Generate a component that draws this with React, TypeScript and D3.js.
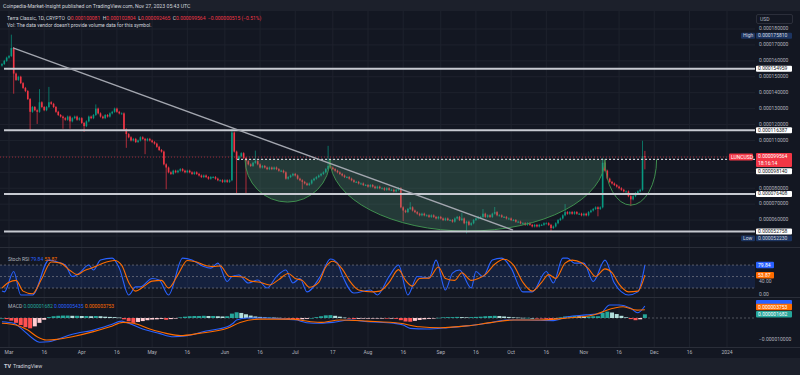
import { useEffect, useRef } from "react";
import * as d3 from "d3";

const DAY = 86400000;
const firstCandle = Date.UTC(2023, 1, 26);

// daily closes, millionths of a dollar, Feb 26 -> Nov 27 2023
const closes = [
  158, 160, 162, 163, 168, 152, 148, 150, 146, 143,
  141, 136, 128, 131, 129, 128, 134, 131, 129, 131,
  134, 133, 131, 128, 126, 125, 124, 123, 125, 122,
  124, 125, 123, 124, 121, 119, 122, 125, 124, 126,
  130, 127, 125, 124, 126, 125, 127, 128, 130, 128,
  127, 127, 117, 114, 112, 110, 111, 109, 110, 112,
  111, 110, 111, 110, 109, 108, 106, 104, 103, 95,
  93, 90, 89, 91, 90, 91, 92, 91, 90, 91,
  90, 89, 90, 89, 88, 87, 88, 87, 86, 87,
  87, 86, 85, 85, 84, 85, 84, 85, 115, 103,
  98, 100, 102, 99, 97, 95, 94, 96, 97, 95,
  93, 94, 93, 92, 93, 92, 93, 92, 91, 91,
  90, 86, 87, 88, 89, 88, 86, 85, 84, 83,
  82, 83, 85, 86, 87, 88, 89, 90, 92, 94,
  93, 92, 91, 90, 89, 88, 87, 87, 86, 85,
  84, 84, 83, 83, 82, 82, 81, 82, 81, 80,
  81, 80, 80, 79, 80, 79, 79, 78, 79, 80,
  68, 66, 65, 67, 68, 66, 65, 64, 63, 64,
  63, 63, 62, 63, 62, 61, 62, 61, 60, 61,
  60, 60, 59, 61, 62, 60, 61, 58, 59, 57,
  58, 60, 61, 62, 62, 64, 62, 63, 62, 64,
  65, 63, 63, 62, 62, 61, 61, 60, 60, 59,
  59, 58, 58, 57, 58, 57, 56, 57, 56, 57,
  57, 58, 58, 57, 55, 56, 58, 60, 61, 63,
  65, 64, 65, 64, 65, 64, 64, 63, 64, 63,
  65, 66, 67, 68, 67, 68, 96, 91, 86, 84,
  83, 82, 81, 80, 79, 78, 78, 75, 73, 75,
  77, 78, 79, 100.08, 99.564,
];
const firstOpen = 157;
const lastOpen = 100.081;

// notable wicks [day index, price]
const wickHighs: [number, number][] = [
  [4, 175.81], [16, 141.6], [20, 143], [40, 132], [98, 116.4], [108, 103],
  [139, 106], [174, 70.6], [196, 64], [205, 66.3], [210, 67.6], [240, 69.4],
  [256, 98.5], [273, 109.2], [274, 102.804],
];
const wickLows: [number, number][] = [
  [5, 140], [12, 116.5], [15, 121], [26, 118], [29, 118], [35, 116], [53, 106],
  [61, 102], [70, 80], [100, 77.5], [104, 77], [128, 80], [171, 60],
  [198, 52.23], [234, 53.5], [254, 63], [268, 69.4], [274, 92.465],
];

const levels = [154.959, 116.387, 76.408, 52.758];
const neckline = 98.14;
const lastPrice = 99.564;
const trendline: [number, number][] = [[4.7, 168.1], [217.8, 53.7]];
// cups: [start day, end day, bottom price, filled]
const cups: [number, number, number, boolean][] = [
  [103.6, 139.8, 71.3, true],
  [139.8, 257, 53.1, true],
  [257, 279, 69.4, false],
];

const priceTicks = [180, 170, 160, 150, 140, 130, 120, 110, 100, 90, 80, 70, 60, 50];
// ticks hidden behind the price labels in the picture
const hiddenPriceLabels = [100, 90, 50];

const timeTicks: [string, number][] = [
  ["Mar", Date.UTC(2023, 2, 1)], ["16", Date.UTC(2023, 2, 16)],
  ["Apr", Date.UTC(2023, 3, 1)], ["16", Date.UTC(2023, 3, 16)],
  ["May", Date.UTC(2023, 4, 1)], ["16", Date.UTC(2023, 4, 16)],
  ["Jun", Date.UTC(2023, 5, 1)], ["16", Date.UTC(2023, 5, 16)],
  ["Jul", Date.UTC(2023, 6, 1)], ["17", Date.UTC(2023, 6, 17)],
  ["Aug", Date.UTC(2023, 7, 1)], ["16", Date.UTC(2023, 7, 16)],
  ["Sep", Date.UTC(2023, 8, 1)], ["16", Date.UTC(2023, 8, 16)],
  ["Oct", Date.UTC(2023, 9, 1)], ["16", Date.UTC(2023, 9, 16)],
  ["Nov", Date.UTC(2023, 10, 1)], ["16", Date.UTC(2023, 10, 16)],
  ["Dec", Date.UTC(2023, 11, 1)], ["16", Date.UTC(2023, 11, 16)],
  ["2024", Date.UTC(2024, 0, 1)],
];

// stochastic RSI [day, value]
const stochK: [number, number][] = [
  [0, 12], [1, 10], [5, 63], [8, 2], [13, 2], [20, 93], [23, 89], [27, 80], [30, 50],
  [33, 59], [37, 80], [39, 67], [42, 93], [47, 98], [50, 72], [54, 2], [57, 23],
  [59, 23], [64, 45], [67, 41], [71, 2], [77, 98], [81, 93], [86, 76], [89, 72],
  [92, 85], [96, 37], [98, 50], [101, 54], [105, 33], [109, 41], [113, 20],
  [117, 50], [121, 67], [124, 33], [127, 45], [130, 10], [136, 54], [140, 96],
  [143, 85], [145, 54], [150, 7], [157, 15], [160, 2], [165, 50], [169, 80],
  [173, 2], [177, 50], [182, 46], [185, 93], [189, 15], [192, 59], [195, 67],
  [200, 20], [202, 63], [205, 50], [209, 93], [213, 98], [217, 72], [222, 10],
  [226, 10], [232, 63], [235, 33], [239, 98], [241, 98], [244, 85], [248, 85],
  [252, 37], [257, 93], [261, 33], [267, 2], [271, 10], [274, 79.84],
];
const stochD: [number, number][] = [
  [0, 20], [3, 35], [6, 40], [9, 12], [13, 5], [17, 45], [21, 88], [25, 85], [29, 66],
  [32, 55], [35, 65], [39, 74], [43, 85], [48, 92], [51, 80], [54, 35], [57, 12],
  [60, 22], [64, 38], [68, 40], [71, 20], [75, 55], [79, 92], [83, 88], [87, 78],
  [90, 76], [93, 78], [97, 50], [100, 50], [103, 48], [106, 38], [110, 35],
  [114, 28], [118, 42], [122, 58], [125, 45], [128, 40], [131, 22], [135, 35],
  [138, 75], [141, 90], [145, 70], [148, 40], [152, 15], [158, 10], [161, 12],
  [165, 35], [169, 68], [172, 40], [175, 25], [178, 45], [182, 46], [186, 75],
  [189, 45], [193, 40], [196, 60], [200, 40], [203, 45], [206, 55], [210, 82],
  [214, 95], [218, 80], [222, 35], [226, 12], [230, 35], [233, 55], [236, 45],
  [240, 85], [243, 93], [247, 86], [250, 70], [253, 50], [257, 70], [260, 60],
  [263, 30], [267, 10], [271, 12], [274, 53.87],
];

// MACD in millionths [day, value]
const macdLine: [number, number][] = [
  [0, -1.7], [5, -2.4], [9, -5.5], [13, -9.2], [16, -11], [20, -10.8], [24, -9.5],
  [30, -7.4], [39, -5.5], [46, -3.2], [51, -1.4], [53, -2], [60, -5], [67, -7],
  [73, -8.5], [79, -8], [87, -5.9], [96, -4], [98.5, -2.4], [100, -0.9], [104.5, 0],
  [113, 0], [120, -0.5], [126, -0.9], [127, -1.4], [132.6, -2.4], [141, -2],
  [148, -0.9], [156, -1.7], [167, -2.4], [171, -3.2], [174, -4.7], [181, -5],
  [190, -4.4], [198, -3.6], [207, -2.4], [215, -0.9], [224, -0.9], [235, -1.2],
  [241, 0.6], [249, 1.4], [255, 2.1], [259, 5.9], [263, 5.9], [268, 4.4],
  [271, 2.4], [274, 5.435],
];
const signalLine: [number, number][] = [
  [0, -2.4], [6, -3.2], [11, -5.5], [15, -8.5], [19, -10], [23.5, -9.7], [30, -8.5],
  [39, -6.2], [46, -4], [51.6, -2], [56, -2.4], [63, -5], [70, -7], [76, -8],
  [84, -7], [96, -4.7], [101.5, -2], [110, -0.5], [124, -0.5], [127, -0.9],
  [135.6, -2], [144, -0.9], [155.6, -1.4], [169.7, -2.4], [178, -4], [186.7, -4.4],
  [198, -3.6], [209, -2], [218, -0.9], [229, -0.9], [241, 0], [252, 1.4],
  [260.5, 4.4], [264.7, 5.1], [270.7, 3.6], [274, 3.753],
];
// histogram, every second day from Feb 26
const macdHist = [
  0, -0.5, -1.2, -2.2, -3.2, -4.2, -4.7, -3.8, -2.2, -0.8,
  0.4, 0.8, 1.0, 1.1, 1.1, 1.0, 1.0, 0.9, 0.9, 0.8,
  0.9, 0.8, 0.6, 0.5, 0.4, 0.2, -0.6, -1.5, -2.2, -1.8,
  -1.4, -1.0, -0.7, -0.6, -0.4, -0.8, -0.5, -0.1, 0.3, 0.6,
  0.8, 0.9, 0.9, 1.0, 0.9, 0.9, 0.8, 0.7, 0.8, 2.0,
  2.6, 2.3, 1.7, 1.1, 0.7, 0.5, 0.3, 0.3, 0.2, 0.1,
  -0.2, -0.4, -0.5, -0.6, -0.6, -0.4, 0, 0.4, 0.8, 1.2,
  1.3, 1.0, 0.6, 0.2, -0.2, -0.5, -0.4, -0.3, -0.3, -0.2,
  -0.2, -0.2, -0.3, -0.3, -0.4, -1.0, -1.6, -1.7, -1.3, -0.9,
  -0.6, -0.4, -0.2, 0.1, 0.3, 0.4, 0.4, 0.5, 0.4, 0.3,
  0.4, 0.5, 0.6, 0.8, 0.9, 1.0, 0.9, 0.7, 0.5, 0.3,
  0.2, 0.1, 0.1, 0, -0.1, -0.2, -0.4, -0.5, -0.2, 0.3,
  0.7, 0.9, 0.9, 0.8, 0.7, 0.7, 0.8, 0.8, 2.4, 2.9,
  2.5, 1.8, 1.0, 0.3, -0.5, -1.0, -0.6, 1.682,
];

const FONT = "Roboto, 'Noto Sans', sans-serif";
const GREEN = "#089981";
const RED = "#f23645";
const BLUE = "#2962ff";
const ORANGE = "#ff6d00";

export default function App() {
  const svgRef = useRef<SVGSVGElement>(null);

  useEffect(() => {
    if (!svgRef.current) return;
    const svg = d3.select(svgRef.current);
    svg.selectAll("*").remove();

    const plotRight = 755;
    const main = { top: 11, bottom: 247 };
    const rsiPane = { top: 248, bottom: 297 };
    const macdPane = { top: 298, bottom: 347 };

    const x = d3
      .scaleUtc()
      .domain([Date.UTC(2023, 2, 1), Date.UTC(2024, 0, 1)])
      .range([9, 727]);
    const xDay = (d: number) => x(new Date(firstCandle + d * DAY));
    const y = d3.scaleLinear().domain([50, 180]).range([236, 29]);
    const yRsi = d3.scaleLinear().domain([0, 100]).range([295.7, 257.4]);
    const yMacd = d3.scaleLinear().domain([-10, 0]).range([340, 318]);

    svg.append("rect").attr("width", 800).attr("height", 375).attr("fill", "#1c202b");
    svg
      .append("rect")
      .attr("x", 0)
      .attr("y", main.top)
      .attr("width", 800)
      .attr("height", 358 - main.top)
      .attr("fill", "#131722");

    // grid
    const grid = svg.append("g").attr("stroke", "#1e222d").attr("stroke-width", 1);
    timeTicks.forEach(([, t]) => {
      grid
        .append("line")
        .attr("x1", x(new Date(t)))
        .attr("x2", x(new Date(t)))
        .attr("y1", main.top)
        .attr("y2", macdPane.bottom);
    });
    priceTicks.forEach((p) => {
      grid.append("line").attr("x1", 0).attr("x2", plotRight).attr("y1", y(p)).attr("y2", y(p));
    });

    // pane separators
    [main.bottom + 0.5, rsiPane.bottom + 0.5, macdPane.bottom + 0.5].forEach((yy) => {
      svg
        .append("line")
        .attr("x1", 0)
        .attr("x2", 800)
        .attr("y1", yy)
        .attr("y2", yy)
        .attr("stroke", "#2a2e39");
    });

    // candles
    const hiMap = new Map(wickHighs);
    const loMap = new Map(wickLows);
    const bodyW = 1.6;
    const candles = svg.append("g");
    closes.forEach((c, i) => {
      const o = i === 0 ? firstOpen : i === closes.length - 1 ? lastOpen : closes[i - 1];
      const hi = hiMap.get(i) ?? Math.max(o, c);
      const lo = loMap.get(i) ?? Math.min(o, c);
      const col = c >= o ? GREEN : RED;
      const cx = xDay(i);
      candles
        .append("line")
        .attr("x1", cx)
        .attr("x2", cx)
        .attr("y1", y(hi) - 1)
        .attr("y2", y(lo) + 1)
        .attr("stroke", col)
        .attr("stroke-width", 0.7);
      const top = Math.min(y(o), y(c));
      candles
        .append("rect")
        .attr("x", cx - bodyW / 2)
        .attr("y", top)
        .attr("width", bodyW)
        .attr("height", Math.max(1, Math.abs(y(o) - y(c))))
        .attr("fill", col);
    });

    // cup and handle
    const yTop = y(neckline);
    cups.forEach(([d0, d1, bottom, filled]) => {
      const x0 = xDay(d0);
      const x1 = xDay(d1);
      const rx = (x1 - x0) / 2;
      const ry = y(bottom) - yTop;
      const path = `M${x0},${yTop} A${rx},${ry} 0 0 0 ${x1},${yTop}`;
      if (filled) {
        svg
          .append("path")
          .attr("d", path + " Z")
          .attr("fill", "rgba(87,163,122,0.25)");
      }
      svg
        .append("path")
        .attr("d", path)
        .attr("fill", "none")
        .attr("stroke", "#3f8f4f")
        .attr("stroke-width", 1);
    });

    // current price line
    svg
      .append("line")
      .attr("x1", 0)
      .attr("x2", plotRight)
      .attr("y1", y(lastPrice))
      .attr("y2", y(lastPrice))
      .attr("stroke", RED)
      .attr("stroke-opacity", 0.6)
      .attr("stroke-dasharray", "1,2");

    // neckline
    svg
      .append("line")
      .attr("x1", xDay(cups[0][0]) - 8)
      .attr("x2", plotRight)
      .attr("y1", yTop)
      .attr("y2", yTop)
      .attr("stroke", "#d1d4dc")
      .attr("stroke-width", 1.3)
      .attr("stroke-dasharray", "2,2");

    // support / resistance
    levels.forEach((p) => {
      svg
        .append("line")
        .attr("x1", 4)
        .attr("x2", plotRight)
        .attr("y1", y(p))
        .attr("y2", y(p))
        .attr("stroke", "#c7cad1")
        .attr("stroke-width", 2);
    });

    // trendline
    svg
      .append("line")
      .attr("x1", xDay(trendline[0][0]))
      .attr("y1", y(trendline[0][1]))
      .attr("x2", xDay(trendline[1][0]))
      .attr("y2", y(trendline[1][1]))
      .attr("stroke", "#a3a6af")
      .attr("stroke-width", 1.3);

    // stoch RSI pane
    svg
      .append("rect")
      .attr("x", 0)
      .attr("y", yRsi(80))
      .attr("width", plotRight)
      .attr("height", yRsi(20) - yRsi(80))
      .attr("fill", "rgba(41,98,255,0.13)");
    [80, 50, 20].forEach((v) => {
      svg
        .append("line")
        .attr("x1", 0)
        .attr("x2", plotRight)
        .attr("y1", yRsi(v))
        .attr("y2", yRsi(v))
        .attr("stroke", "#787b86")
        .attr("stroke-opacity", 0.7)
        .attr("stroke-dasharray", "2,2");
    });
    const rsiLine = d3
      .line<[number, number]>()
      .x((d) => xDay(d[0]))
      .y((d) => yRsi(Math.max(0, Math.min(100, d[1]))))
      .curve(d3.curveMonotoneX);
    svg.append("path").datum(stochK).attr("d", rsiLine).attr("fill", "none").attr("stroke", BLUE).attr("stroke-width", 1.1);
    svg.append("path").datum(stochD).attr("d", rsiLine).attr("fill", "none").attr("stroke", ORANGE).attr("stroke-width", 1.1);

    // MACD pane
    svg
      .append("line")
      .attr("x1", 0)
      .attr("x2", plotRight)
      .attr("y1", yMacd(0))
      .attr("y2", yMacd(0))
      .attr("stroke", "#787b86")
      .attr("stroke-opacity", 0.6)
      .attr("stroke-dasharray", "2,2");
    const barW = 2 * (xDay(1) - xDay(0)) - 0.7;
    macdHist.forEach((v, j) => {
      const prev = j > 0 ? macdHist[j - 1] : v;
      const col = v >= 0 ? (v >= prev ? "#26a69a" : "#b2dfdb") : v < prev ? "#ff5252" : "#ffcdd2";
      const cx = xDay(j * 2);
      svg
        .append("rect")
        .attr("x", cx - barW / 2)
        .attr("y", Math.min(yMacd(0), yMacd(v)))
        .attr("width", barW)
        .attr("height", Math.max(0.6, Math.abs(yMacd(v) - yMacd(0))))
        .attr("fill", col);
    });
    const mLine = d3
      .line<[number, number]>()
      .x((d) => xDay(d[0]))
      .y((d) => yMacd(d[1]))
      .curve(d3.curveMonotoneX);
    svg.append("path").datum(macdLine).attr("d", mLine).attr("fill", "none").attr("stroke", BLUE).attr("stroke-width", 1.1);
    svg.append("path").datum(signalLine).attr("d", mLine).attr("fill", "none").attr("stroke", ORANGE).attr("stroke-width", 1.1);

    // axis texts
    const txt = (xx: number, yy: number, s: string, fill = "#b2b5be", anchor = "start", size = 5) =>
      svg
        .append("text")
        .attr("x", xx)
        .attr("y", yy)
        .attr("font-family", FONT)
        .attr("font-size", size)
        .attr("fill", fill)
        .attr("text-anchor", anchor)
        .attr("dominant-baseline", "middle")
        .text(s);

    priceTicks
      .filter((p) => !hiddenPriceLabels.includes(p))
      .forEach((p) => txt(759, y(p), (p / 1e6).toFixed(9)));
    timeTicks.forEach(([lab, t]) => txt(x(new Date(t)), 353, lab, "#b2b5be", "middle"));
    txt(759, yRsi(40) + 0.8, "40.00");
    txt(759, yRsi(0) - 1.4, "0.00");
    txt(759, yMacd(-10), "\u22120.000010000");

    const box = (
      x0: number,
      yc: number,
      w: number,
      h: number,
      bg: string,
      fg: string,
      s: string
    ) => {
      svg
        .append("rect")
        .attr("x", x0)
        .attr("y", yc - h / 2)
        .attr("width", w)
        .attr("height", h)
        .attr("rx", 1)
        .attr("fill", bg);
      txt(x0 + 2, yc + 0.2, s, fg);
    };

    // USD
    svg
      .append("rect")
      .attr("x", 756.5)
      .attr("y", 14.5)
      .attr("width", 36)
      .attr("height", 9)
      .attr("rx", 1.5)
      .attr("fill", "#131722")
      .attr("stroke", "#363a45")
      .attr("stroke-width", 0.7);
    txt(760, 19.2, "USD", "#b2b5be");

    box(741, y(175.81), 14, 6, "#1c3461", "#d1d4dc", "High");
    box(756, y(175.81), 36, 6, "#1c3461", "#d1d4dc", "0.000175810");
    levels.forEach((p) => box(756, y(p), 36, 6, "#ffffff", "#131722", (p / 1e6).toFixed(9)));
    box(756, 171.2, 36, 6, "#ffffff", "#131722", (neckline / 1e6).toFixed(9));
    box(741, 238.4, 14, 5.6, "#1c3461", "#d1d4dc", "Low");
    box(756, 238.4, 36, 5.6, "#1c3461", "#d1d4dc", "0.000052230");

    box(729, 157, 24, 7, RED, "#ffffff", "LUNCUSD");
    svg.append("rect").attr("x", 756).attr("y", 153).attr("width", 36).attr("height", 14).attr("rx", 1).attr("fill", RED);
    txt(758, 157, (lastPrice / 1e6).toFixed(9), "#ffffff");
    txt(758, 163.5, "18:16:14", "#ffffff");

    box(756, 265, 18, 6.5, BLUE, "#ffffff", "79.84");
    box(756, 275.3, 18, 6.5, ORANGE, "#ffffff", "53.87");

    // MACD value tags; the blue one sits mostly behind the orange one
    svg.append("rect").attr("x", 756).attr("y", 300).attr("width", 36).attr("height", 5).attr("rx", 1).attr("fill", BLUE);
    box(756, 307, 36, 6.5, ORANGE, "#ffffff", "0.000003753");
    box(756, 314.2, 36, 6.5, "#26a69a", "#ffffff", "0.000001682");

    // header and legends
    txt(3, 6.5, "Coinpedia-Market-Insight published on TradingView.com, Nov 27, 2023 05:43 UTC", "#d1d4dc", "start", 5.2);

    const legend = svg
      .append("text")
      .attr("x", 7)
      .attr("y", 18.5)
      .attr("font-family", FONT)
      .attr("font-size", 5)
      .attr("dominant-baseline", "middle");
    const parts: [string, string][] = [
      ["Terra Classic, 1D, CRYPTO  O", "#d1d4dc"],
      ["0.000100081", RED],
      ["  H", "#d1d4dc"],
      ["0.000102804", RED],
      ["  L", "#d1d4dc"],
      ["0.000092465", RED],
      ["  C", "#d1d4dc"],
      ["0.000099564  \u22120.000000515 (\u22120.51%)", RED],
    ];
    parts.forEach(([s, c]) => legend.append("tspan").attr("fill", c).attr("xml:space", "preserve").text(s));
    txt(7, 25.8, "Vol: The data vendor doesn't provide volume data for this symbol.", "#d1d4dc");

    const rsiLegend = svg
      .append("text")
      .attr("x", 8)
      .attr("y", 259.5)
      .attr("font-family", FONT)
      .attr("font-size", 5)
      .attr("dominant-baseline", "middle");
    rsiLegend.append("tspan").attr("fill", "#b2b5be").text("Stoch RSI ");
    rsiLegend.append("tspan").attr("fill", BLUE).text(" 79.84 ");
    rsiLegend.append("tspan").attr("fill", ORANGE).text(" 53.87");

    const macdLegend = svg
      .append("text")
      .attr("x", 8)
      .attr("y", 307)
      .attr("font-family", FONT)
      .attr("font-size", 5)
      .attr("dominant-baseline", "middle");
    macdLegend.append("tspan").attr("fill", "#b2b5be").text("MACD ");
    macdLegend.append("tspan").attr("fill", "#26a69a").text(" 0.000001682 ");
    macdLegend.append("tspan").attr("fill", BLUE).text(" 0.000005435 ");
    macdLegend.append("tspan").attr("fill", ORANGE).text(" 0.000003753");

    // footer
    txt(4, 367, "TV", "#d1d4dc", "start", 5.5).attr("font-weight", "bold");
    txt(13, 367, "TradingView", "#d1d4dc", "start", 5.3);
  }, []);

  return (
    <div style={{ position: "fixed", left: 0, top: 0 }}>
      <svg ref={svgRef} width={800} height={375} style={{ display: "block" }} />
    </div>
  );
}
